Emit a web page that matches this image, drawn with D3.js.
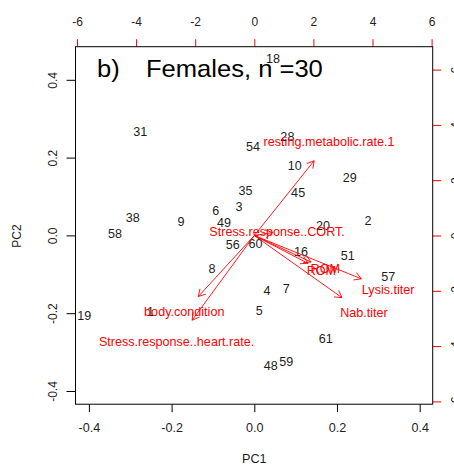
<!DOCTYPE html>
<html>
<head>
<meta charset="utf-8">
<script src="https://cdn.jsdelivr.net/npm/d3@7"></script>
<style>
  html, body { margin: 0; padding: 0; background: #fff; }
  svg { display: block; font-family: "Liberation Sans", Arial, sans-serif; }
</style>
</head>
<body>
<svg id="chart" width="454" height="466"></svg>
<script>
// ---- data ----
const pointLabels = ["18","31","54","28","10","29","35","45","3","6","38","9","49","2","20",
                     "58","56","60","16","51","8","57","7","4","1","19","5","61","48","59"];
const pc1Scores = [0.045,-0.276,-0.003,0.080,0.098,0.231,-0.021,0.106,-0.037,-0.093,-0.294,-0.177,-0.073,0.275,0.166,
                   -0.337,-0.052,0.003,0.113,0.226,-0.102,0.324,0.077,0.031,-0.251,-0.411,0.012,0.173,0.040,0.077];
const pc2Scores = [0.453,0.266,0.227,0.253,0.180,0.148,0.115,0.110,0.074,0.063,0.045,0.035,0.033,0.038,0.025,
                   0.004,-0.023,-0.022,-0.042,-0.053,-0.087,-0.107,-0.137,-0.143,-0.197,-0.206,-0.193,-0.266,-0.335,-0.325];

const varNames = ["resting.metabolic.rate.1","Stress.response..CORT.","body.condition",
                  "Stress.response..heart.rate.","ROM","ROM","Lysis.titer","Nab.titer"];
const loadPC1 = [2.53, 0.77, -2.37, -2.63, 2.40, 2.27, 4.53, 3.71];
const loadPC2 = [3.38, 0.13, -2.76, -3.83, -1.20, -1.26, -1.96, -2.81];

const pc1Ticks = [-0.4, -0.2, 0.0, 0.2, 0.4];
const pc2Ticks = [-0.4, -0.2, 0.0, 0.2, 0.4];
const loadTicks = [-6, -4, -2, 0, 2, 4, 6];

const titleTag = "b)";
const titleText = "Females, n =30";
const xTitle = "PC1";
const yTitle = "PC2";

// ---- layout ----
const box = { left: 75.5, right: 432.7, top: 46.7, bottom: 404.2 };
const svg = d3.select("#chart");
const RED = "#ff0000";
const INK = "#1e1e1e";
const SX = 1.05; // slight horizontal stretch of the reference

const x = d3.scaleLinear().domain([-0.4, 0.4]).range([88.9, 419.7]);
const y = d3.scaleLinear().domain([-0.4, 0.4]).range([391.0, 79.8]);
const x2 = d3.scaleLinear().domain([-6, 6]).range([77.0, 431.6]);
const y2 = d3.scaleLinear().domain([-6, 6]).range([401.4, 69.6]);

// ---- axes ----
function styleAxis(g, col, textCol) {
  g.select(".domain").remove();
  g.selectAll(".tick line").attr("stroke", col).attr("stroke-width", 1);
  g.selectAll(".tick text").attr("fill", textCol).attr("font-size", 12)
    .attr("font-family", "'Liberation Sans', Arial, sans-serif");
}
const fmt1 = d => d.toFixed(1);

// bottom
const gB = svg.append("g").attr("transform", `translate(0,${box.bottom})`)
  .call(d3.axisBottom(x).tickValues(pc1Ticks).tickFormat(fmt1).tickSize(8).tickPadding(11));
styleAxis(gB, "#000", INK);
gB.selectAll(".tick text").attr("transform", `scale(${SX},1)`).attr("x", 0);

// top
const gT = svg.append("g").attr("transform", `translate(0,${box.top})`)
  .call(d3.axisTop(x2).tickValues(loadTicks).tickFormat(d => String(d)).tickSize(7.5).tickPadding(13));
styleAxis(gT, RED, INK);

// left
const gL = svg.append("g").attr("transform", `translate(${box.left},0)`)
  .call(d3.axisLeft(y).tickValues(pc2Ticks).tickFormat(fmt1).tickSize(9));
styleAxis(gL, "#000", INK);
gL.selectAll(".tick text").attr("x", null).attr("dy", "0.35em").attr("text-anchor", "middle")
  .attr("transform", "translate(-22.5,0) rotate(-90)");

// right
const gR = svg.append("g").attr("transform", `translate(${box.right},0)`)
  .call(d3.axisRight(y2).tickValues(loadTicks).tickFormat(d => String(d)).tickSize(8.5));
styleAxis(gR, RED, INK);
gR.selectAll(".tick text").attr("x", null).attr("dy", "0.35em").attr("text-anchor", "middle")
  .attr("transform", "translate(22.7,0) rotate(-90)");

// box
svg.append("rect").attr("x", box.left).attr("y", box.top)
  .attr("width", box.right - box.left).attr("height", box.bottom - box.top)
  .attr("fill", "none").attr("stroke", "#000").attr("stroke-width", 1);

// axis titles
svg.append("text").attr("transform", `translate(${x(0)},459) scale(${SX},1)`).attr("dy", "0.35em")
  .attr("text-anchor", "middle").attr("font-size", 12).attr("fill", INK)
  .text(xTitle);
svg.append("text").attr("transform", "translate(17,236) rotate(-90)").attr("dy", "0.35em")
  .attr("text-anchor", "middle").attr("font-size", 12).attr("fill", INK).text(yTitle);

// ---- point labels ----
const pts = pointLabels.map((lab, i) => ({ lab, px: pc1Scores[i], py: pc2Scores[i] }));
svg.append("g").selectAll("text").data(pts).join("text")
  .attr("transform", d => `translate(${x(d.px)},${y(d.py)}) scale(${SX},1)`)
  .attr("dy", "0.35em").attr("text-anchor", "middle")
  .attr("font-size", 12).attr("fill", INK).text(d => d.lab);

// ---- arrows (drawn at 0.8 × loadings, labels at loadings) ----
const vars = varNames.map((name, i) => ({ name, lx: loadPC1[i], ly: loadPC2[i] }));
const gA = svg.append("g").attr("stroke", RED).attr("stroke-width", 0.9).attr("fill", "none");
const headLen = 8, headAng = Math.PI / 6;
vars.forEach(v => {
  const x0 = x2(0), y0 = y2(0);
  const x1 = x2(v.lx * 0.8), y1 = y2(v.ly * 0.8);
  gA.append("line").attr("x1", x0).attr("y1", y0).attr("x2", x1).attr("y2", y1);
  const ang = Math.atan2(y1 - y0, x1 - x0);
  [ang + Math.PI - headAng, ang + Math.PI + headAng].forEach(a => {
    gA.append("line").attr("x1", x1).attr("y1", y1)
      .attr("x2", x1 + headLen * Math.cos(a)).attr("y2", y1 + headLen * Math.sin(a));
  });
});
svg.append("g").selectAll("text").data(vars).join("text")
  .attr("transform", d => `translate(${x2(d.lx)},${y2(d.ly)}) scale(${SX},1)`)
  .attr("dy", "0.35em").attr("text-anchor", "middle")
  .attr("font-size", 12).attr("fill", RED).text(d => d.name);

// ---- title ----
svg.append("text").attr("transform", `translate(97,77) scale(1.065,1)`)
  .attr("font-size", 24).attr("fill", "#000").text(titleTag);
svg.append("text").attr("transform", `translate(146,77) scale(1.065,1)`)
  .attr("font-size", 24).attr("fill", "#000").text(titleText);
</script>
</body>
</html>
